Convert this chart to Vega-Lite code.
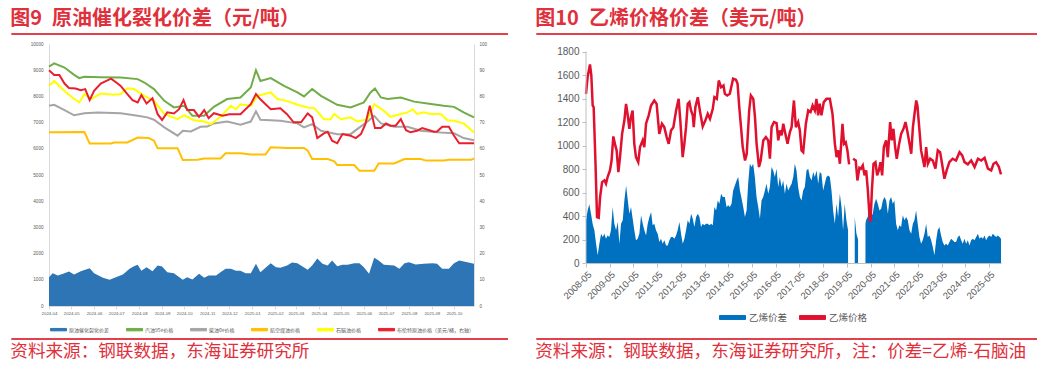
{
 "$schema": "https://vega.github.io/schema/vega-lite/v6.json",
 "background": "white",
 "padding": {"left": 10, "top": 8, "right": 3, "bottom": 2},
 "spacing": 25,
 "config": {
  "view": {"stroke": null},
  "font": "Liberation Sans",
  "axis": {"grid": false, "labelFont": "Liberation Sans", "labelOverlap": false},
  "legend": {"layout": {"bottom": {"anchor": "middle"}}},
  "title": {"font": "Noto Sans CJK SC"}
 },
 "resolve": {"scale": {"color": "independent"}, "legend": {"color": "independent"}},
 "datasets": {
  "crack": [
   {"d":"2024-04-01","v":1100},{"d":"2024-04-06","v":1250},{"d":"2024-04-13","v":1160},{"d":"2024-04-22","v":1250},{"d":"2024-04-28","v":1320},{"d":"2024-05-05","v":1200},{"d":"2024-05-14","v":1330},{"d":"2024-05-26","v":1440},{"d":"2024-06-01","v":1250},{"d":"2024-06-13","v":1080},{"d":"2024-06-22","v":1000},{"d":"2024-07-03","v":1130},{"d":"2024-07-10","v":1200},{"d":"2024-07-19","v":1420},{"d":"2024-07-25","v":1520},{"d":"2024-07-30","v":1570},{"d":"2024-08-04","v":1350},{"d":"2024-08-11","v":1480},{"d":"2024-08-19","v":1330},{"d":"2024-08-26","v":1550},{"d":"2024-09-01","v":1510},{"d":"2024-09-08","v":1290},{"d":"2024-09-17","v":1250},{"d":"2024-09-29","v":1000},{"d":"2024-10-05","v":1100},{"d":"2024-10-12","v":1010},{"d":"2024-10-21","v":1230},{"d":"2024-10-28","v":1080},{"d":"2024-11-03","v":1160},{"d":"2024-11-13","v":1160},{"d":"2024-11-19","v":1290},{"d":"2024-11-26","v":1420},{"d":"2024-12-03","v":1420},{"d":"2024-12-10","v":1350},{"d":"2024-12-16","v":1350},{"d":"2024-12-23","v":1250},{"d":"2024-12-30","v":1250},{"d":"2025-01-06","v":1610},{"d":"2025-01-12","v":1290},{"d":"2025-01-19","v":1460},{"d":"2025-01-26","v":1630},{"d":"2025-02-02","v":1480},{"d":"2025-02-08","v":1460},{"d":"2025-02-17","v":1550},{"d":"2025-02-24","v":1660},{"d":"2025-03-03","v":1630},{"d":"2025-03-10","v":1510},{"d":"2025-03-17","v":1380},{"d":"2025-03-23","v":1550},{"d":"2025-03-30","v":1810},{"d":"2025-04-06","v":1610},{"d":"2025-04-13","v":1550},{"d":"2025-04-19","v":1740},{"d":"2025-04-26","v":1520},{"d":"2025-05-03","v":1570},{"d":"2025-05-10","v":1570},{"d":"2025-05-19","v":1630},{"d":"2025-05-26","v":1630},{"d":"2025-06-01","v":1480},{"d":"2025-06-08","v":1230},{"d":"2025-06-15","v":1840},{"d":"2025-06-21","v":1740},{"d":"2025-06-28","v":1570},{"d":"2025-07-12","v":1550},{"d":"2025-07-19","v":1420},{"d":"2025-07-26","v":1630},{"d":"2025-08-01","v":1670},{"d":"2025-08-10","v":1580},{"d":"2025-08-21","v":1610},{"d":"2025-09-02","v":1630},{"d":"2025-09-08","v":1610},{"d":"2025-09-15","v":1420},{"d":"2025-09-24","v":1420},{"d":"2025-10-01","v":1630},{"d":"2025-10-08","v":1740},{"d":"2025-10-19","v":1670},{"d":"2025-10-28","v":1610}
  ],
  "products": [
   {"s":"汽油95#价格","d":"2024-04-01","v":9140},{"s":"汽油95#价格","d":"2024-04-08","v":9260},{"s":"汽油95#价格","d":"2024-04-22","v":9100},{"s":"汽油95#价格","d":"2024-05-05","v":8820},{"s":"汽油95#价格","d":"2024-05-12","v":8700},{"s":"汽油95#价格","d":"2024-05-19","v":8750},{"s":"汽油95#价格","d":"2024-06-10","v":8730},{"s":"汽油95#价格","d":"2024-07-07","v":8720},{"s":"汽油95#价格","d":"2024-07-30","v":8660},{"s":"汽油95#价格","d":"2024-08-08","v":8530},{"s":"汽油95#价格","d":"2024-08-21","v":8280},{"s":"汽油95#价格","d":"2024-09-04","v":7830},{"s":"汽油95#价格","d":"2024-09-17","v":7580},{"s":"汽油95#价格","d":"2024-10-01","v":7640},{"s":"汽油95#价格","d":"2024-10-12","v":7260},{"s":"汽油95#价格","d":"2024-10-28","v":7260},{"s":"汽油95#价格","d":"2024-11-10","v":7600},{"s":"汽油95#价格","d":"2024-11-28","v":7900},{"s":"汽油95#价格","d":"2024-12-16","v":7960},{"s":"汽油95#价格","d":"2024-12-30","v":8340},{"s":"汽油95#价格","d":"2025-01-06","v":9000},{"s":"汽油95#价格","d":"2025-01-12","v":8590},{"s":"汽油95#价格","d":"2025-01-26","v":8700},{"s":"汽油95#价格","d":"2025-02-13","v":8400},{"s":"汽油95#价格","d":"2025-03-03","v":8150},{"s":"汽油95#价格","d":"2025-03-12","v":8000},{"s":"汽油95#价格","d":"2025-03-23","v":8280},{"s":"汽油95#价格","d":"2025-04-04","v":8020},{"s":"汽油95#价格","d":"2025-04-26","v":7680},{"s":"汽油95#价格","d":"2025-05-14","v":7580},{"s":"汽油95#价格","d":"2025-06-01","v":7770},{"s":"汽油95#价格","d":"2025-06-10","v":8150},{"s":"汽油95#价格","d":"2025-06-16","v":8300},{"s":"汽油95#价格","d":"2025-06-24","v":7960},{"s":"汽油95#价格","d":"2025-07-03","v":7900},{"s":"汽油95#价格","d":"2025-07-21","v":7960},{"s":"汽油95#价格","d":"2025-08-08","v":7800},{"s":"汽油95#价格","d":"2025-08-26","v":7730},{"s":"汽油95#价格","d":"2025-09-17","v":7640},{"s":"汽油95#价格","d":"2025-10-01","v":7600},{"s":"汽油95#价格","d":"2025-10-14","v":7390},{"s":"汽油95#价格","d":"2025-10-28","v":7200},
   {"s":"柴油0#价格","d":"2024-04-01","v":7640},{"s":"柴油0#价格","d":"2024-04-08","v":7680},{"s":"柴油0#价格","d":"2024-04-22","v":7480},{"s":"柴油0#价格","d":"2024-05-05","v":7280},{"s":"柴油0#价格","d":"2024-05-19","v":7360},{"s":"柴油0#价格","d":"2024-06-06","v":7390},{"s":"柴油0#价格","d":"2024-07-07","v":7360},{"s":"柴油0#价格","d":"2024-07-30","v":7260},{"s":"柴油0#价格","d":"2024-08-12","v":7200},{"s":"柴油0#价格","d":"2024-08-21","v":7110},{"s":"柴油0#价格","d":"2024-09-04","v":6820},{"s":"柴油0#价格","d":"2024-09-22","v":6500},{"s":"柴油0#价格","d":"2024-09-29","v":6690},{"s":"柴油0#价格","d":"2024-10-10","v":6660},{"s":"柴油0#价格","d":"2024-10-23","v":6840},{"s":"柴油0#价格","d":"2024-11-01","v":6850},{"s":"柴油0#价格","d":"2024-11-10","v":6970},{"s":"柴油0#价格","d":"2024-11-28","v":7040},{"s":"柴油0#价格","d":"2024-12-16","v":6920},{"s":"柴油0#价格","d":"2024-12-30","v":7040},{"s":"柴油0#价格","d":"2025-01-06","v":7430},{"s":"柴油0#价格","d":"2025-01-12","v":7110},{"s":"柴油0#价格","d":"2025-02-08","v":7070},{"s":"柴油0#价格","d":"2025-03-03","v":6970},{"s":"柴油0#价格","d":"2025-03-12","v":6820},{"s":"柴油0#价格","d":"2025-03-23","v":6940},{"s":"柴油0#价格","d":"2025-04-04","v":6690},{"s":"柴油0#价格","d":"2025-04-26","v":6560},{"s":"柴油0#价格","d":"2025-05-14","v":6560},{"s":"柴油0#价格","d":"2025-05-23","v":6750},{"s":"柴油0#价格","d":"2025-06-06","v":7040},{"s":"柴油0#价格","d":"2025-06-15","v":7260},{"s":"柴油0#价格","d":"2025-06-24","v":6970},{"s":"柴油0#价格","d":"2025-07-12","v":6840},{"s":"柴油0#价格","d":"2025-07-30","v":6840},{"s":"柴油0#价格","d":"2025-08-17","v":6690},{"s":"柴油0#价格","d":"2025-09-13","v":6620},{"s":"柴油0#价格","d":"2025-10-01","v":6590},{"s":"柴油0#价格","d":"2025-10-14","v":6410},{"s":"柴油0#价格","d":"2025-10-28","v":6330},
   {"s":"航空煤油价格","d":"2024-04-01","v":6630},{"s":"航空煤油价格","d":"2024-05-19","v":6640},{"s":"航空煤油价格","d":"2024-05-26","v":6200},{"s":"航空煤油价格","d":"2024-06-24","v":6200},{"s":"航空煤油价格","d":"2024-06-28","v":6240},{"s":"航空煤油价格","d":"2024-07-16","v":6240},{"s":"航空煤油价格","d":"2024-07-30","v":6430},{"s":"航空煤油价格","d":"2024-08-14","v":6410},{"s":"航空煤油价格","d":"2024-08-21","v":6310},{"s":"航空煤油价格","d":"2024-08-26","v":6020},{"s":"航空煤油价格","d":"2024-09-22","v":6020},{"s":"航空煤油价格","d":"2024-09-29","v":5570},{"s":"航空煤油价格","d":"2024-10-19","v":5580},{"s":"航空煤油价格","d":"2024-10-28","v":5630},{"s":"航空煤油价格","d":"2024-11-19","v":5630},{"s":"航空煤油价格","d":"2024-11-26","v":5830},{"s":"航空煤油价格","d":"2024-12-16","v":5830},{"s":"航空煤油价格","d":"2024-12-30","v":5780},{"s":"航空煤油价格","d":"2025-01-19","v":5780},{"s":"航空煤油价格","d":"2025-01-26","v":6060},{"s":"航空煤油价格","d":"2025-02-17","v":6030},{"s":"航空煤油价格","d":"2025-03-12","v":6030},{"s":"航空煤油价格","d":"2025-03-17","v":5930},{"s":"航空煤油价格","d":"2025-03-23","v":5610},{"s":"航空煤油价格","d":"2025-04-13","v":5610},{"s":"航空煤油价格","d":"2025-04-22","v":5520},{"s":"航空煤油价格","d":"2025-04-26","v":5380},{"s":"航空煤油价格","d":"2025-05-19","v":5380},{"s":"航空煤油价格","d":"2025-05-26","v":5160},{"s":"航空煤油价格","d":"2025-06-15","v":5160},{"s":"航空煤油价格","d":"2025-06-21","v":5440},{"s":"航空煤油价格","d":"2025-07-12","v":5440},{"s":"航空煤油价格","d":"2025-07-26","v":5610},{"s":"航空煤油价格","d":"2025-08-17","v":5610},{"s":"航空煤油价格","d":"2025-08-24","v":5550},{"s":"航空煤油价格","d":"2025-09-17","v":5550},{"s":"航空煤油价格","d":"2025-09-24","v":5580},{"s":"航空煤油价格","d":"2025-10-24","v":5580},{"s":"航空煤油价格","d":"2025-10-28","v":5630},
   {"s":"石脑油价格","d":"2024-04-01","v":8400},{"s":"石脑油价格","d":"2024-04-08","v":8590},{"s":"石脑油价格","d":"2024-04-22","v":8210},{"s":"石脑油价格","d":"2024-05-05","v":7900},{"s":"石脑油价格","d":"2024-05-12","v":7770},{"s":"石脑油价格","d":"2024-05-19","v":8090},{"s":"石脑油价格","d":"2024-05-28","v":7900},{"s":"石脑油价格","d":"2024-06-10","v":8110},{"s":"石脑油价格","d":"2024-06-28","v":8060},{"s":"石脑油价格","d":"2024-07-07","v":8090},{"s":"石脑油价格","d":"2024-07-16","v":8310},{"s":"石脑油价格","d":"2024-07-25","v":8280},{"s":"石脑油价格","d":"2024-08-08","v":8020},{"s":"石脑油价格","d":"2024-08-21","v":7830},{"s":"石脑油价格","d":"2024-09-04","v":7330},{"s":"石脑油价格","d":"2024-09-22","v":7130},{"s":"石脑油价格","d":"2024-10-01","v":7280},{"s":"石脑油价格","d":"2024-10-14","v":7090},{"s":"石脑油价格","d":"2024-10-28","v":7040},{"s":"石脑油价格","d":"2024-11-06","v":6940},{"s":"石脑油价格","d":"2024-11-19","v":7220},{"s":"石脑油价格","d":"2024-12-03","v":7640},{"s":"石脑油价格","d":"2024-12-10","v":7510},{"s":"石脑油价格","d":"2024-12-16","v":7700},{"s":"石脑油价格","d":"2024-12-30","v":7640},{"s":"石脑油价格","d":"2025-01-08","v":8020},{"s":"石脑油价格","d":"2025-01-26","v":8150},{"s":"石脑油价格","d":"2025-02-04","v":7900},{"s":"石脑油价格","d":"2025-02-17","v":7830},{"s":"石脑油价格","d":"2025-03-03","v":7680},{"s":"石脑油价格","d":"2025-03-17","v":7580},{"s":"石脑油价格","d":"2025-03-26","v":7550},{"s":"石脑油价格","d":"2025-04-08","v":7130},{"s":"石脑油价格","d":"2025-04-17","v":7130},{"s":"石脑油价格","d":"2025-04-22","v":7330},{"s":"石脑油价格","d":"2025-05-01","v":7130},{"s":"石脑油价格","d":"2025-05-14","v":7200},{"s":"石脑油价格","d":"2025-05-23","v":7040},{"s":"石脑油价格","d":"2025-06-06","v":7130},{"s":"石脑油价格","d":"2025-06-15","v":7700},{"s":"石脑油价格","d":"2025-06-28","v":7450},{"s":"石脑油价格","d":"2025-07-07","v":7220},{"s":"石脑油价格","d":"2025-07-21","v":7330},{"s":"石脑油价格","d":"2025-07-30","v":7390},{"s":"石脑油价格","d":"2025-08-06","v":7510},{"s":"石脑油价格","d":"2025-08-12","v":7330},{"s":"石脑油价格","d":"2025-08-21","v":7390},{"s":"石脑油价格","d":"2025-08-30","v":7330},{"s":"石脑油价格","d":"2025-09-13","v":7330},{"s":"石脑油价格","d":"2025-09-22","v":7090},{"s":"石脑油价格","d":"2025-10-01","v":7070},{"s":"石脑油价格","d":"2025-10-14","v":6970},{"s":"石脑油价格","d":"2025-10-28","v":6620}
  ],
  "brent": [
   {"d":"2024-04-01","v":90.0},{"d":"2024-04-08","v":88.2},{"d":"2024-04-15","v":88.2},{"d":"2024-04-22","v":84.9},{"d":"2024-04-28","v":83.2},{"d":"2024-05-07","v":83.0},{"d":"2024-05-14","v":82.4},{"d":"2024-05-20","v":82.8},{"d":"2024-05-26","v":78.6},{"d":"2024-06-01","v":82.1},{"d":"2024-06-10","v":84.9},{"d":"2024-06-24","v":86.8},{"d":"2024-07-01","v":85.3},{"d":"2024-07-07","v":84.0},{"d":"2024-07-16","v":80.9},{"d":"2024-07-23","v":78.6},{"d":"2024-07-30","v":77.7},{"d":"2024-08-04","v":80.5},{"d":"2024-08-11","v":77.3},{"d":"2024-08-19","v":79.3},{"d":"2024-08-26","v":73.2},{"d":"2024-09-01","v":71.0},{"d":"2024-09-08","v":73.9},{"d":"2024-09-17","v":73.5},{"d":"2024-09-24","v":75.1},{"d":"2024-09-30","v":78.6},{"d":"2024-10-05","v":74.8},{"d":"2024-10-14","v":74.8},{"d":"2024-10-21","v":72.2},{"d":"2024-10-28","v":74.8},{"d":"2024-11-03","v":71.7},{"d":"2024-11-10","v":73.6},{"d":"2024-11-22","v":72.6},{"d":"2024-12-01","v":73.2},{"d":"2024-12-16","v":73.2},{"d":"2024-12-30","v":77.0},{"d":"2025-01-06","v":80.9},{"d":"2025-01-12","v":78.9},{"d":"2025-01-26","v":75.1},{"d":"2025-02-08","v":75.5},{"d":"2025-02-17","v":73.2},{"d":"2025-02-26","v":70.1},{"d":"2025-03-08","v":70.1},{"d":"2025-03-17","v":73.5},{"d":"2025-03-23","v":72.0},{"d":"2025-03-30","v":64.1},{"d":"2025-04-08","v":65.9},{"d":"2025-04-13","v":66.5},{"d":"2025-04-19","v":63.1},{"d":"2025-04-26","v":62.1},{"d":"2025-05-03","v":65.6},{"d":"2025-05-14","v":65.0},{"d":"2025-05-21","v":64.1},{"d":"2025-05-28","v":65.6},{"d":"2025-06-03","v":69.4},{"d":"2025-06-09","v":76.4},{"d":"2025-06-16","v":67.9},{"d":"2025-06-24","v":67.9},{"d":"2025-07-01","v":69.7},{"d":"2025-07-07","v":68.8},{"d":"2025-07-14","v":68.8},{"d":"2025-07-21","v":71.3},{"d":"2025-07-28","v":67.1},{"d":"2025-08-03","v":66.3},{"d":"2025-08-12","v":66.9},{"d":"2025-08-19","v":67.9},{"d":"2025-09-04","v":66.5},{"d":"2025-09-08","v":66.6},{"d":"2025-09-15","v":68.4},{"d":"2025-09-24","v":68.4},{"d":"2025-10-01","v":65.0},{"d":"2025-10-08","v":62.1},{"d":"2025-10-28","v":62.1}
  ],
  "ethPrice": [
   {"d":"2008-05-01","v":1441},{"d":"2008-05-26","v":1583},{"d":"2008-07-01","v":1691},{"d":"2008-07-22","v":1597},{"d":"2008-08-12","v":1341},{"d":"2008-08-27","v":1327},{"d":"2008-09-23","v":873},{"d":"2008-10-18","v":391},{"d":"2008-11-13","v":385},{"d":"2008-12-04","v":561},{"d":"2009-01-04","v":689},{"d":"2009-02-09","v":704},{"d":"2009-03-05","v":675},{"d":"2009-03-30","v":732},{"d":"2009-05-05","v":788},{"d":"2009-05-30","v":873},{"d":"2009-06-26","v":1078},{"d":"2009-07-26","v":1001},{"d":"2009-08-16","v":959},{"d":"2009-09-12","v":774},{"d":"2009-10-07","v":902},{"d":"2009-11-08","v":1100},{"d":"2009-12-13","v":1213},{"d":"2010-01-08","v":1355},{"d":"2010-02-03","v":1257},{"d":"2010-02-28","v":1143},{"d":"2010-03-24","v":1242},{"d":"2010-04-19","v":1299},{"d":"2010-05-15","v":1015},{"d":"2010-06-10","v":902},{"d":"2010-07-15","v":859},{"d":"2010-08-11","v":987},{"d":"2010-09-21","v":1044},{"d":"2010-10-16","v":987},{"d":"2010-11-12","v":1186},{"d":"2010-12-23","v":1257},{"d":"2011-01-28","v":1341},{"d":"2011-03-19","v":1384},{"d":"2011-04-24","v":1355},{"d":"2011-06-04","v":1100},{"d":"2011-07-15","v":1186},{"d":"2011-08-20","v":1157},{"d":"2011-09-26","v":1072},{"d":"2011-10-27","v":1015},{"d":"2011-12-02","v":1129},{"d":"2012-01-07","v":1157},{"d":"2012-02-18","v":1299},{"d":"2012-03-28","v":1398},{"d":"2012-04-23","v":1213},{"d":"2012-05-29","v":902},{"d":"2012-06-24","v":1015},{"d":"2012-07-20","v":1157},{"d":"2012-08-15","v":1355},{"d":"2012-09-10","v":1370},{"d":"2012-10-05","v":1299},{"d":"2012-11-01","v":1257},{"d":"2012-11-16","v":1157},{"d":"2012-12-11","v":1327},{"d":"2013-01-17","v":1412},{"d":"2013-02-22","v":1285},{"d":"2013-04-03","v":1163},{"d":"2013-05-13","v":1213},{"d":"2013-06-19","v":1271},{"d":"2013-07-24","v":1228},{"d":"2013-09-05","v":1313},{"d":"2013-09-30","v":1412},{"d":"2013-11-06","v":1398},{"d":"2013-12-06","v":1554},{"d":"2014-01-11","v":1497},{"d":"2014-02-17","v":1512},
   {"d":"2014-03-10","v":1441},{"d":"2014-04-15","v":1427},{"d":"2014-05-25","v":1441},{"d":"2014-07-15","v":1569},{"d":"2014-08-28","v":1560},{"d":"2014-09-22","v":1526},{"d":"2014-10-18","v":1327},{"d":"2014-11-14","v":1157},{"d":"2014-12-10","v":987},{"d":"2015-01-15","v":873},{"d":"2015-02-10","v":930},{"d":"2015-03-20","v":1299},{"d":"2015-04-15","v":1427},{"d":"2015-05-22","v":1398},{"d":"2015-06-17","v":1242},{"d":"2015-07-12","v":1015},{"d":"2015-08-18","v":817},{"d":"2015-09-13","v":873},{"d":"2015-10-23","v":1044},{"d":"2015-12-02","v":1072},{"d":"2016-01-07","v":1044},{"d":"2016-02-02","v":888},{"d":"2016-02-28","v":1157},{"d":"2016-04-05","v":1200},{"d":"2016-05-15","v":1191},{"d":"2016-06-10","v":1044},{"d":"2016-07-05","v":1129},{"d":"2016-08-01","v":1087},{"d":"2016-08-26","v":1186},{"d":"2016-09-21","v":1115},{"d":"2016-10-31","v":1015},{"d":"2016-12-06","v":1115},{"d":"2017-01-01","v":1157},{"d":"2017-02-06","v":1384},{"d":"2017-03-08","v":1157},{"d":"2017-04-12","v":1200},{"d":"2017-05-08","v":1129},{"d":"2017-06-03","v":959},{"d":"2017-06-29","v":944},{"d":"2017-08-09","v":1186},{"d":"2017-09-14","v":1299},{"d":"2017-10-20","v":1285},{"d":"2017-11-21","v":1341},{"d":"2017-12-25","v":1299},{"d":"2018-01-19","v":1398},{"d":"2018-02-14","v":1257},{"d":"2018-03-10","v":1356},{"d":"2018-04-06","v":1257},{"d":"2018-05-12","v":1370},{"d":"2018-06-23","v":1398},{"d":"2018-08-13","v":1398},{"d":"2018-09-23","v":1271},{"d":"2018-10-30","v":1015},{"d":"2018-11-25","v":902},{"d":"2018-12-21","v":959},{"d":"2019-01-15","v":845},{"d":"2019-02-24","v":1186},{"d":"2019-03-20","v":1015},{"d":"2019-04-15","v":1029},{"d":"2019-05-11","v":959},{"d":"2019-06-06","v":840},{"d":"2019-07-01","v":null},{"d":"2019-08-07","v":888},{"d":"2019-09-16","v":873},{"d":"2019-10-12","v":703},
   {"d":"2019-11-12","v":811},{"d":"2019-12-06","v":803},{"d":"2020-01-03","v":831},{"d":"2020-01-30","v":746},{"d":"2020-02-24","v":788},{"d":"2020-03-21","v":618},{"d":"2020-04-16","v":391},{"d":"2020-05-01","v":349},{"d":"2020-05-22","v":618},{"d":"2020-06-16","v":845},{"d":"2020-07-16","v":859},{"d":"2020-08-11","v":746},{"d":"2020-09-06","v":788},{"d":"2020-10-02","v":859},{"d":"2020-10-27","v":746},{"d":"2020-11-22","v":987},{"d":"2020-12-27","v":1044},{"d":"2021-01-22","v":902},{"d":"2021-02-27","v":1200},{"d":"2021-03-24","v":1044},{"d":"2021-04-19","v":1143},{"d":"2021-05-15","v":987},{"d":"2021-06-09","v":888},{"d":"2021-07-11","v":1001},{"d":"2021-08-16","v":1100},{"d":"2021-09-21","v":1143},{"d":"2021-10-22","v":1200},{"d":"2021-11-17","v":1129},{"d":"2021-12-23","v":1015},{"d":"2022-01-18","v":930},{"d":"2022-02-13","v":1157},{"d":"2022-03-10","v":1271},{"d":"2022-04-05","v":1384},{"d":"2022-04-23","v":1341},{"d":"2022-05-25","v":1129},{"d":"2022-06-19","v":959},{"d":"2022-07-15","v":888},{"d":"2022-08-10","v":817},{"d":"2022-09-05","v":987},{"d":"2022-10-01","v":845},{"d":"2022-11-06","v":888},{"d":"2022-12-16","v":873},{"d":"2023-01-26","v":803},{"d":"2023-03-03","v":959},{"d":"2023-04-08","v":944},{"d":"2023-05-08","v":845},{"d":"2023-06-13","v":718},{"d":"2023-07-18","v":788},{"d":"2023-08-28","v":859},{"d":"2023-10-18","v":888},{"d":"2023-12-09","v":873},{"d":"2024-02-01","v":944},{"d":"2024-03-13","v":916},{"d":"2024-04-18","v":859},{"d":"2024-06-08","v":840},{"d":"2024-07-30","v":873},{"d":"2024-09-20","v":817},{"d":"2024-11-11","v":888},{"d":"2025-01-01","v":873},{"d":"2025-02-21","v":896},{"d":"2025-04-13","v":803},{"d":"2025-06-03","v":788},{"d":"2025-07-09","v":845},{"d":"2025-08-17","v":859},{"d":"2025-09-27","v":822},{"d":"2025-11-01","v":755}
  ],
  "ethSpread": [
   {"d":"2008-05-01","v":363},{"d":"2008-05-26","v":448},{"d":"2008-06-21","v":500},{"d":"2008-07-17","v":420},{"d":"2008-08-12","v":330},{"d":"2008-09-07","v":278},{"d":"2008-10-03","v":164},{"d":"2008-10-28","v":65},{"d":"2008-11-23","v":164},{"d":"2008-12-19","v":250},{"d":"2009-01-14","v":221},{"d":"2009-02-09","v":250},{"d":"2009-03-05","v":207},{"d":"2009-03-30","v":235},{"d":"2009-04-25","v":221},{"d":"2009-05-21","v":278},{"d":"2009-06-16","v":477},{"d":"2009-07-11","v":335},{"d":"2009-08-07","v":278},{"d":"2009-09-02","v":349},{"d":"2009-09-27","v":164},{"d":"2009-10-23","v":335},{"d":"2009-11-18","v":363},{"d":"2009-12-13","v":533},{"d":"2010-01-09","v":661},{"d":"2010-02-04","v":533},{"d":"2010-02-28","v":420},{"d":"2010-03-25","v":477},{"d":"2010-04-20","v":377},{"d":"2010-05-15","v":278},{"d":"2010-06-10","v":193},{"d":"2010-07-06","v":207},{"d":"2010-08-01","v":250},{"d":"2010-08-27","v":406},{"d":"2010-09-22","v":335},{"d":"2010-10-17","v":278},{"d":"2010-11-12","v":235},{"d":"2010-12-08","v":335},{"d":"2011-01-03","v":391},{"d":"2011-01-29","v":434},{"d":"2011-02-22","v":321},{"d":"2011-03-19","v":335},{"d":"2011-04-14","v":278},{"d":"2011-05-10","v":250},{"d":"2011-06-05","v":179},{"d":"2011-06-30","v":207},{"d":"2011-07-26","v":164},{"d":"2011-08-21","v":193},{"d":"2011-09-16","v":150},{"d":"2011-10-12","v":150},{"d":"2011-11-07","v":193},{"d":"2011-12-02","v":221},{"d":"2011-12-28","v":221},{"d":"2012-01-23","v":207},{"d":"2012-02-17","v":235},{"d":"2012-03-13","v":278},{"d":"2012-04-09","v":349},{"d":"2012-05-04","v":250},{"d":"2012-05-30","v":164},{"d":"2012-06-25","v":207},{"d":"2012-07-20","v":278},{"d":"2012-08-15","v":363},{"d":"2012-09-10","v":335},{"d":"2012-10-06","v":420},{"d":"2012-11-01","v":377},{"d":"2012-11-26","v":306},{"d":"2012-12-22","v":391},{"d":"2013-01-17","v":420},{"d":"2013-02-12","v":391},{"d":"2013-03-08","v":306},{"d":"2013-04-03","v":335},{"d":"2013-04-28","v":321},{"d":"2013-05-24","v":335},{"d":"2013-06-19","v":335},{"d":"2013-07-14","v":321},{"d":"2013-08-10","v":335},{"d":"2013-09-05","v":321},{"d":"2013-09-30","v":477},{"d":"2013-10-26","v":448},{"d":"2013-11-21","v":533},{"d":"2013-12-16","v":505},{"d":"2014-01-11","v":590},{"d":"2014-02-07","v":562},
   {"d":"2014-03-10","v":562},{"d":"2014-04-05","v":477},{"d":"2014-05-01","v":491},{"d":"2014-05-26","v":477},{"d":"2014-06-21","v":505},{"d":"2014-07-16","v":618},{"d":"2014-08-12","v":661},{"d":"2014-09-07","v":703},{"d":"2014-10-02","v":732},{"d":"2014-10-28","v":618},{"d":"2014-11-23","v":547},{"d":"2014-12-18","v":477},{"d":"2015-01-13","v":391},{"d":"2015-02-08","v":448},{"d":"2015-03-04","v":675},{"d":"2015-03-30","v":845},{"d":"2015-04-25","v":817},{"d":"2015-05-20","v":845},{"d":"2015-06-15","v":732},{"d":"2015-07-11","v":562},{"d":"2015-08-06","v":477},{"d":"2015-09-01","v":377},{"d":"2015-09-26","v":533},{"d":"2015-10-22","v":562},{"d":"2015-11-17","v":618},{"d":"2015-12-12","v":675},{"d":"2016-01-07","v":590},{"d":"2016-02-02","v":647},{"d":"2016-02-27","v":817},{"d":"2016-03-24","v":788},{"d":"2016-04-18","v":732},{"d":"2016-05-14","v":803},{"d":"2016-06-09","v":647},{"d":"2016-07-04","v":732},{"d":"2016-07-30","v":647},{"d":"2016-08-25","v":703},{"d":"2016-09-20","v":590},{"d":"2016-10-15","v":675},{"d":"2016-11-10","v":618},{"d":"2016-12-06","v":647},{"d":"2017-01-01","v":675},{"d":"2017-01-27","v":732},{"d":"2017-02-20","v":845},{"d":"2017-03-17","v":788},{"d":"2017-04-12","v":647},{"d":"2017-05-08","v":562},{"d":"2017-06-03","v":533},{"d":"2017-06-28","v":618},{"d":"2017-07-24","v":647},{"d":"2017-08-19","v":788},{"d":"2017-09-14","v":803},{"d":"2017-10-10","v":732},{"d":"2017-11-05","v":703},{"d":"2017-11-30","v":775},{"d":"2017-12-25","v":732},{"d":"2018-01-21","v":788},{"d":"2018-02-15","v":675},{"d":"2018-03-11","v":775},{"d":"2018-04-06","v":760},{"d":"2018-05-02","v":618},{"d":"2018-05-27","v":675},{"d":"2018-06-22","v":732},{"d":"2018-07-18","v":746},{"d":"2018-08-13","v":732},{"d":"2018-09-08","v":618},{"d":"2018-10-03","v":448},{"d":"2018-10-29","v":335},{"d":"2018-11-24","v":505},{"d":"2018-12-19","v":391},{"d":"2019-01-14","v":590},{"d":"2019-02-09","v":477},{"d":"2019-03-05","v":278},{"d":"2019-03-30","v":505},{"d":"2019-04-25","v":363},{"d":"2019-05-21","v":278},{"d":"2019-06-20","v":null},{"d":"2019-09-01","v":390},{"d":"2019-09-27","v":250},{"d":"2019-10-22","v":200},{"d":"2019-11-30","v":null},
   {"d":"2020-02-13","v":334},{"d":"2020-02-22","v":363},{"d":"2020-03-19","v":391},{"d":"2020-04-14","v":448},{"d":"2020-05-10","v":391},{"d":"2020-06-05","v":420},{"d":"2020-06-30","v":505},{"d":"2020-07-26","v":547},{"d":"2020-08-21","v":505},{"d":"2020-09-16","v":448},{"d":"2020-10-12","v":462},{"d":"2020-11-07","v":533},{"d":"2020-12-02","v":562},{"d":"2020-12-28","v":533},{"d":"2021-01-23","v":420},{"d":"2021-02-17","v":533},{"d":"2021-03-14","v":562},{"d":"2021-04-09","v":505},{"d":"2021-05-04","v":533},{"d":"2021-05-30","v":335},{"d":"2021-06-25","v":278},{"d":"2021-07-20","v":321},{"d":"2021-08-15","v":306},{"d":"2021-09-10","v":406},{"d":"2021-10-06","v":363},{"d":"2021-11-01","v":391},{"d":"2021-11-26","v":363},{"d":"2021-12-22","v":278},{"d":"2022-01-17","v":250},{"d":"2022-02-12","v":335},{"d":"2022-03-08","v":363},{"d":"2022-04-03","v":448},{"d":"2022-04-28","v":335},{"d":"2022-05-24","v":221},{"d":"2022-06-19","v":164},{"d":"2022-07-14","v":193},{"d":"2022-08-10","v":250},{"d":"2022-09-05","v":335},{"d":"2022-09-30","v":221},{"d":"2022-10-26","v":235},{"d":"2022-11-21","v":193},{"d":"2022-12-16","v":136},{"d":"2023-01-11","v":65},{"d":"2023-02-06","v":193},{"d":"2023-03-02","v":278},{"d":"2023-03-27","v":306},{"d":"2023-04-23","v":235},{"d":"2023-05-18","v":179},{"d":"2023-06-13","v":150},{"d":"2023-07-09","v":164},{"d":"2023-08-04","v":150},{"d":"2023-08-30","v":179},{"d":"2023-09-25","v":207},{"d":"2023-10-20","v":193},{"d":"2023-11-15","v":179},{"d":"2023-12-10","v":179},{"d":"2024-01-06","v":221},{"d":"2024-02-01","v":235},{"d":"2024-02-26","v":193},{"d":"2024-03-22","v":164},{"d":"2024-04-17","v":207},{"d":"2024-05-13","v":164},{"d":"2024-06-08","v":193},{"d":"2024-07-03","v":150},{"d":"2024-07-29","v":193},{"d":"2024-08-24","v":207},{"d":"2024-09-19","v":193},{"d":"2024-10-15","v":221},{"d":"2024-11-10","v":250},{"d":"2024-12-05","v":207},{"d":"2024-12-31","v":221},{"d":"2025-01-26","v":207},{"d":"2025-02-20","v":235},{"d":"2025-03-17","v":193},{"d":"2025-04-12","v":221},{"d":"2025-05-07","v":235},{"d":"2025-06-02","v":221},{"d":"2025-06-28","v":250},{"d":"2025-07-23","v":235},{"d":"2025-08-18","v":221},{"d":"2025-09-13","v":235},{"d":"2025-10-09","v":221},{"d":"2025-11-01","v":207}
  ]
 },
 "hconcat": [
  {
   "resolve": {"scale": {"color": "independent"}, "legend": {"color": "independent"}},
   "title": {"text": "资料来源：钢联数据，东海证券研究所", "orient": "bottom", "anchor": "start", "frame": "bounds", "color": "#E0303C", "fontSize": 17.6, "fontWeight": "normal", "offset": 3},
   "vconcat": [
    {
     "title": {"text": "图9\u2002原油催化裂化价差（元/吨）", "anchor": "start", "frame": "bounds", "color": "#E0303C", "fontSize": 20, "fontWeight": "bold", "offset": 4},
     "width": 425,
     "height": 262,
     "resolve": {"scale": {"y": "independent"}},
     "layer": [
      {
       "layer": [
        {
         "data": {"name": "products"},
         "mark": {"type": "line", "strokeWidth": 2},
         "encoding": {
          "x": {"field": "d", "type": "temporal", "title": null,
                "scale": {"domain": [{"year": 2024, "month": 4, "date": 1}, {"year": 2025, "month": 10, "date": 28}]},
                "axis": {"tickCount": {"interval": "month", "step": 1}, "format": "%Y-%m", "labelFontSize": 4.3, "labelColor": "#595959", "labelPadding": 2, "tickSize": 3, "tickColor": "#D9D9D9", "domainColor": "#D9D9D9", "labelOverlap": false, "labelFlush": false}},
          "y": {"field": "v", "type": "quantitative", "title": null,
                "scale": {"domain": [0, 10000], "nice": false},
                "axis": {"values": [0,1000,2000,3000,4000,5000,6000,7000,8000,9000,10000], "tickCount": 20, "format": "d", "labelOverlap": false, "labelFontSize": 4.6, "labelColor": "#595959", "ticks": false, "labelPadding": 6, "domainColor": "#D9D9D9"}},
          "color": {"field": "s", "type": "nominal",
                    "scale": {"domain": ["原油催化裂化价差", "汽油95#价格", "柴油0#价格", "航空煤油价格", "石脑油价格", "布伦特原油价格（美元/桶，右轴）"], "range": ["#2E75B6", "#70AD47", "#A5A5A5", "#FFC000", "#FFFF00", "#E8202E"]},
                    "legend": {"orient": "bottom", "direction": "horizontal", "title": null, "symbolType": "M-1,-0.15H1V0.15H-1Z", "symbolSize": 256, "symbolStrokeWidth": 1, "labelFontSize": 5, "labelFont": "Noto Sans CJK SC", "labelColor": "#595959", "columnPadding": 14, "labelOffset": 2, "offset": 5}}
         }
        },
        {
         "data": {"name": "crack"},
         "mark": {"type": "area"},
         "encoding": {
          "x": {"field": "d", "type": "temporal"},
          "y": {"field": "v", "type": "quantitative"},
          "color": {"datum": "原油催化裂化价差"}
         }
        },
        {
         "data": {"values": [{}]},
         "mark": {"type": "rule", "color": "#E2404A", "strokeWidth": 2},
         "encoding": {
          "x": {"datum": {"year": 2024, "month": 2, "date": 10}, "type": "temporal"},
          "x2": {"datum": {"year": 2025, "month": 12, "date": 13}},
          "y": {"datum": 10382, "type": "quantitative"}
         }
        },
        {
         "data": {"values": [{}]},
         "mark": {"type": "rule", "color": "#E2404A", "strokeWidth": 2},
         "encoding": {
          "x": {"datum": {"year": 2024, "month": 2, "date": 10}, "type": "temporal"},
          "x2": {"datum": {"year": 2025, "month": 12, "date": 13}},
          "y": {"datum": -1260, "type": "quantitative"}
         }
        }
       ]
      },
      {
       "data": {"name": "brent"},
       "mark": {"type": "line", "strokeWidth": 2},
       "encoding": {
        "x": {"field": "d", "type": "temporal"},
        "y": {"field": "v", "type": "quantitative", "title": null,
              "scale": {"domain": [0, 100], "nice": false},
              "axis": {"orient": "right", "values": [0,10,20,30,40,50,60,70,80,90,100], "tickCount": 20, "format": "d", "labelOverlap": false, "labelFontSize": 4.6, "labelColor": "#595959", "ticks": false, "labelPadding": 5, "domainColor": "#D9D9D9"}},
        "color": {"datum": "布伦特原油价格（美元/桶，右轴）"}
       }
      }
     ]
    }
   ]
  },
  {
   "resolve": {"scale": {"color": "independent"}, "legend": {"color": "independent"}},
   "title": {"text": "资料来源：钢联数据，东海证券研究所，注：价差=乙烯-石脑油", "orient": "bottom", "anchor": "start", "frame": "bounds", "color": "#E0303C", "fontSize": 17.6, "fontWeight": "normal", "offset": 3},
   "vconcat": [
    {
     "title": {"text": "图10\u2002乙烯价格价差（美元/吨）", "anchor": "start", "frame": "bounds", "color": "#E0303C", "fontSize": 20, "fontWeight": "bold", "offset": 4},
     "width": 415,
     "height": 219,
     "layer": [
      {
       "data": {"name": "ethSpread"},
       "mark": {"type": "area", "invalid": "break-paths-filter-domains"},
       "encoding": {
        "x": {"field": "d", "type": "temporal", "title": null,
              "scale": {"domain": [{"year": 2008, "month": 5, "date": 1}, {"year": 2025, "month": 11, "date": 1}]},
              "axis": {"values": [{"year":2008,"month":5,"date":1},{"year":2009,"month":5,"date":1},{"year":2010,"month":5,"date":1},{"year":2011,"month":5,"date":1},{"year":2012,"month":5,"date":1},{"year":2013,"month":5,"date":1},{"year":2014,"month":5,"date":1},{"year":2015,"month":5,"date":1},{"year":2016,"month":5,"date":1},{"year":2017,"month":5,"date":1},{"year":2018,"month":5,"date":1},{"year":2019,"month":5,"date":1},{"year":2020,"month":5,"date":1},{"year":2021,"month":5,"date":1},{"year":2022,"month":5,"date":1},{"year":2023,"month":5,"date":1},{"year":2024,"month":5,"date":1},{"year":2025,"month":5,"date":1}],
                       "tickCount": 30, "format": "%Y-%m", "labelAngle": -45, "labelFontSize": 9.5, "labelColor": "#595959", "tickSize": 4, "tickColor": "#BFBFBF", "domainColor": "#BFBFBF", "labelOverlap": false, "labelFlush": false, "labelPadding": 2}},
        "y": {"field": "v", "type": "quantitative", "title": null,
              "scale": {"domain": [0, 1865], "nice": false},
              "axis": {"values": [0,200,400,600,800,1000,1200,1400,1600,1800], "tickCount": 20, "format": "d", "labelOverlap": false, "labelFontSize": 10, "labelColor": "#595959", "domain": false, "tickSize": 4, "tickColor": "#BFBFBF", "labelPadding": 3}},
        "color": {"datum": "乙烯价差", "type": "nominal",
                  "scale": {"domain": ["乙烯价差", "乙烯价格"], "range": ["#0070C0", "#E0102F"]},
                  "legend": {"orient": "bottom", "direction": "horizontal", "title": null, "symbolType": "M-1,-0.15H1V0.15H-1Z", "symbolSize": 676, "symbolStrokeWidth": 1, "labelFontSize": 9.5, "labelFont": "Noto Sans CJK SC", "labelColor": "#595959", "columnPadding": 9, "labelOffset": 3, "offset": 3}}
       }
      },
      {
       "data": {"name": "ethPrice"},
       "mark": {"type": "line", "strokeWidth": 2.5, "invalid": "break-paths-filter-domains"},
       "encoding": {
        "x": {"field": "d", "type": "temporal"},
        "y": {"field": "v", "type": "quantitative"},
        "color": {"datum": "乙烯价格", "type": "nominal"}
       }
      },
      {
       "data": {"values": [{}]},
       "mark": {"type": "rule", "color": "#BFBFBF", "strokeWidth": 1},
       "encoding": {
        "x": {"datum": {"year": 2008, "month": 5, "date": 1}, "type": "temporal"},
        "y": {"datum": 0, "type": "quantitative"},
        "y2": {"datum": 1800}
       }
      },
      {
       "data": {"values": [{}]},
       "mark": {"type": "rule", "color": "#E2404A", "strokeWidth": 2},
       "encoding": {
        "x": {"datum": {"year": 2006, "month": 3, "date": 27}, "type": "temporal"},
        "x2": {"datum": {"year": 2027, "month": 5, "date": 29}},
        "y": {"datum": 1950, "type": "quantitative"}
       }
      },
      {
       "data": {"values": [{}]},
       "mark": {"type": "rule", "color": "#E2404A", "strokeWidth": 2},
       "encoding": {
        "x": {"datum": {"year": 2006, "month": 3, "date": 27}, "type": "temporal"},
        "x2": {"datum": {"year": 2027, "month": 5, "date": 29}},
        "y": {"datum": -647, "type": "quantitative"}
       }
      }
     ]
    }
   ]
  }
 ]
}
